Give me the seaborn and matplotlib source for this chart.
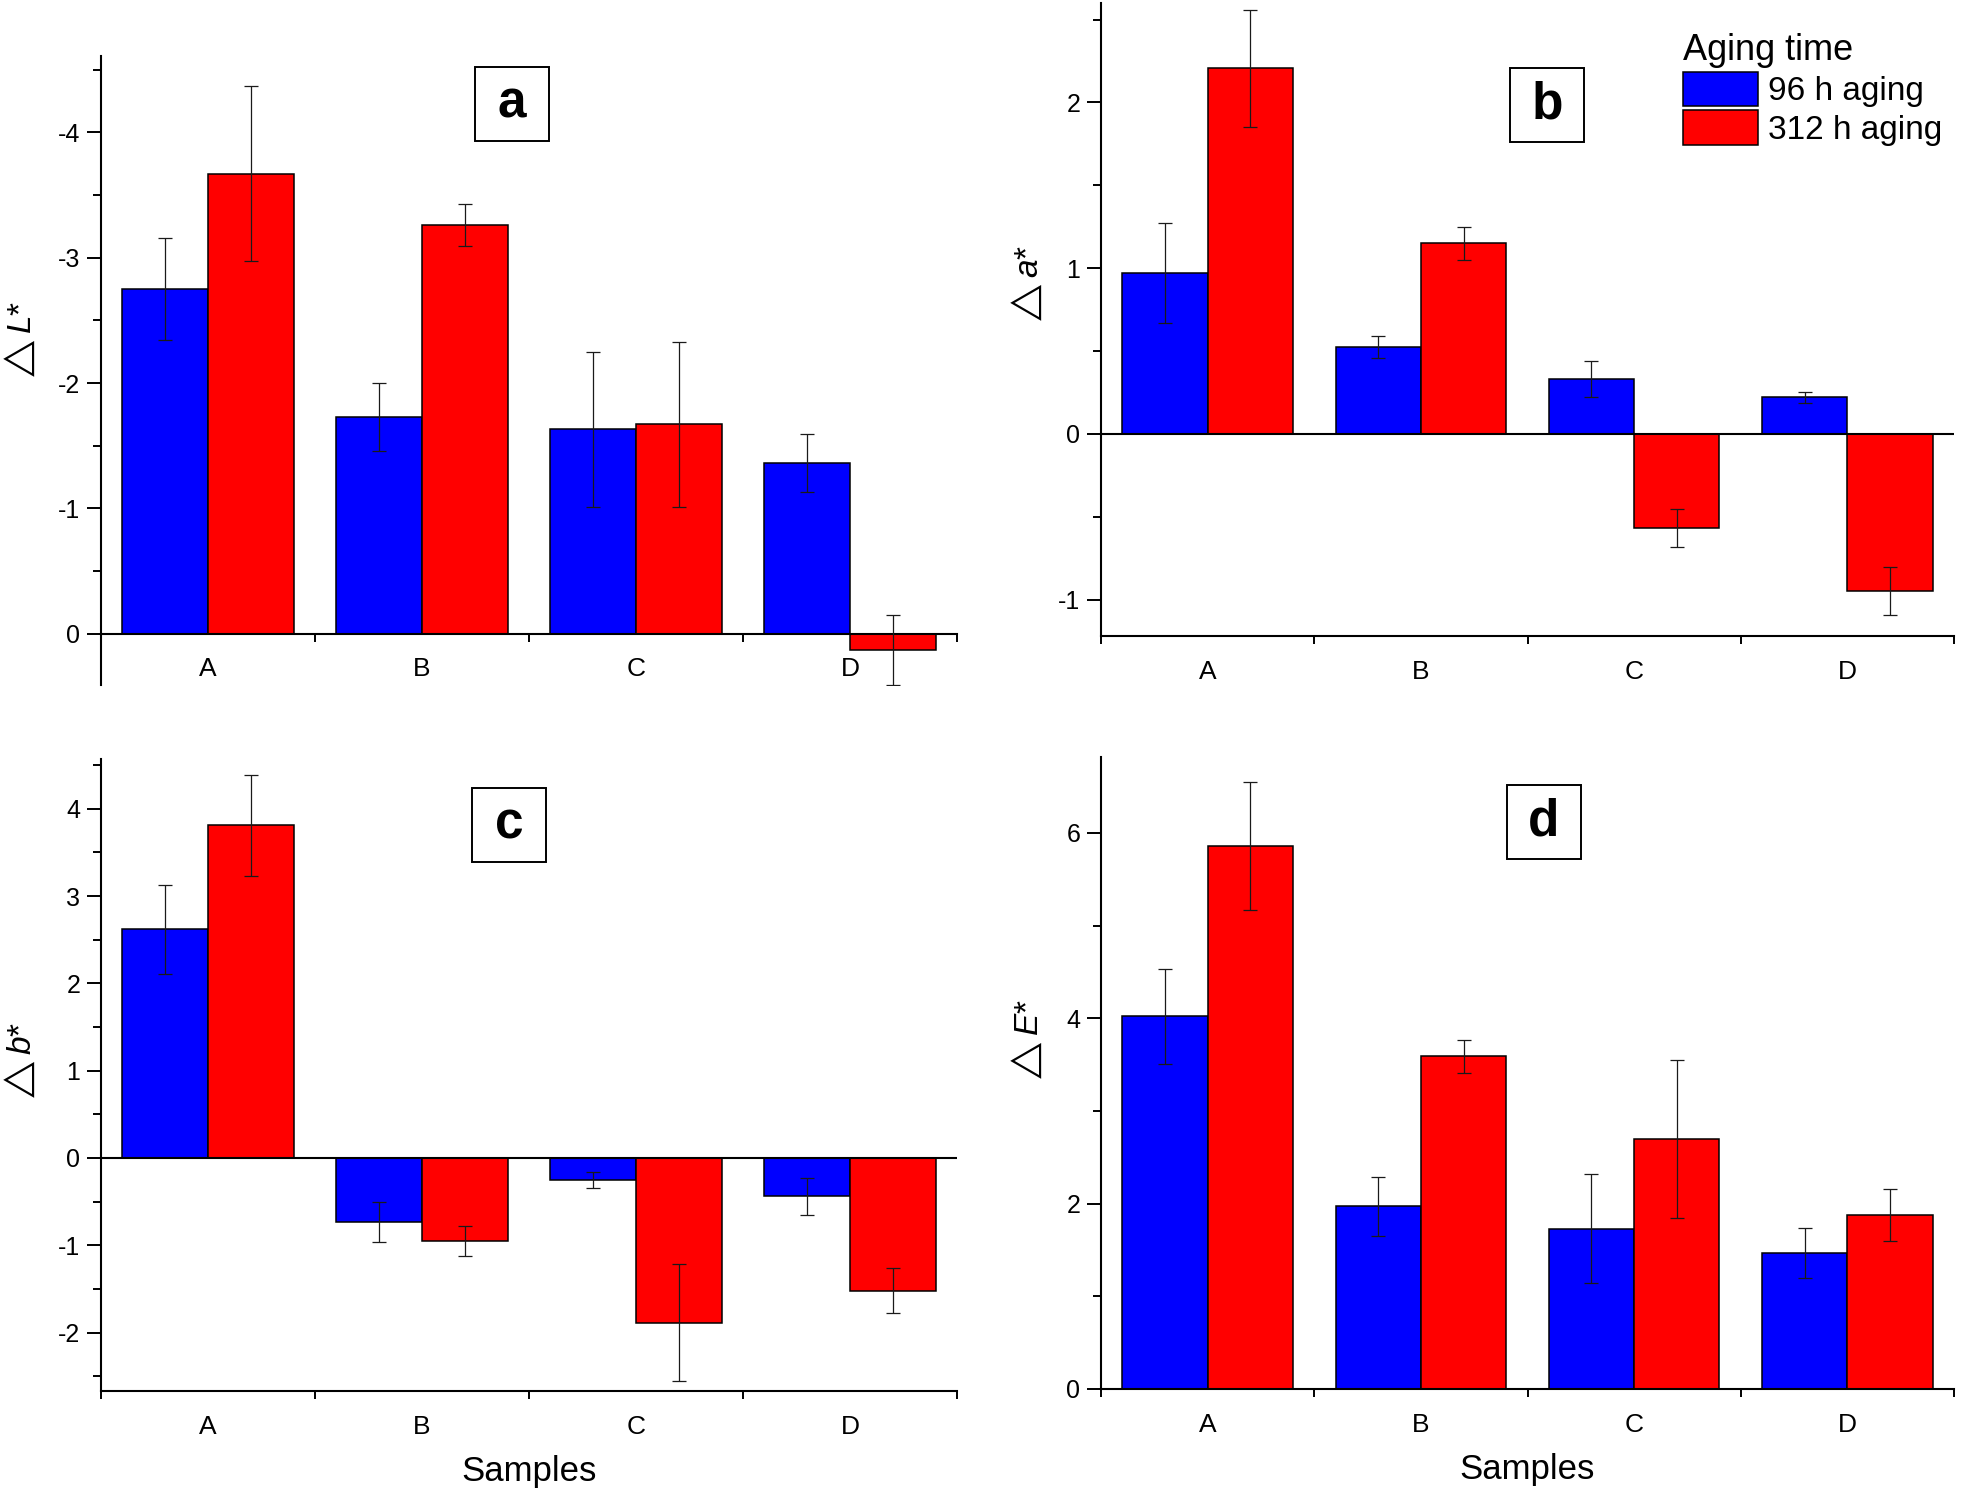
import numpy as np
import pandas as pd
import matplotlib
matplotlib.use('Agg')
import matplotlib.pyplot as plt
from matplotlib.patches import Rectangle
from matplotlib.ticker import MultipleLocator, FixedLocator
import seaborn as sns

# ── DATA ──────────────────────────────────────────────────
SAMPLES = ['A', 'B', 'C', 'D']
GROUPS = ['96 h aging', '312 h aging']
COLORS = {'96 h aging': '#0000FF', '312 h aging': '#FF0000'}

dL_96 = [-2.75, -1.73, -1.63, -1.36]
dL_96_err = [0.41, 0.27, 0.62, 0.23]
dL_312 = [-3.67, -3.26, -1.67, 0.13]
dL_312_err = [0.70, 0.17, 0.66, 0.28]

da_96 = [0.97, 0.525, 0.33, 0.22]
da_96_err = [0.30, 0.065, 0.107, 0.035]
da_312 = [2.205, 1.15, -0.57, -0.95]
da_312_err = [0.355, 0.10, 0.115, 0.145]

db_96 = [2.62, -0.73, -0.25, -0.44]
db_96_err = [0.51, 0.23, 0.09, 0.21]
db_312 = [3.81, -0.95, -1.89, -1.52]
db_312_err = [0.58, 0.175, 0.67, 0.26]

dE_96 = [4.02, 1.97, 1.73, 1.47]
dE_96_err = [0.51, 0.315, 0.59, 0.27]
dE_312 = [5.86, 3.59, 2.70, 1.88]
dE_312_err = [0.69, 0.175, 0.85, 0.28]

# ── STYLE ─────────────────────────────────────────────────
sns.set_theme(style='ticks', rc={
    'axes.edgecolor': 'black', 'xtick.color': 'black', 'ytick.color': 'black',
    'text.color': 'black', 'axes.labelcolor': 'black'})
plt.rcParams['font.family'] = ['Liberation Sans', 'DejaVu Sans']
plt.rcParams['axes.unicode_minus'] = False
plt.rcParams['mathtext.fontset'] = 'custom'
plt.rcParams['mathtext.rm'] = 'Liberation Sans'
plt.rcParams['mathtext.it'] = 'Liberation Sans:italic'
plt.rcParams['mathtext.fallback'] = 'stix'

W, H = 1961, 1495
fig = plt.figure(figsize=(W / 100, H / 100), dpi=100)


def draw_panel(rect, v96, e96, v312, e312, ylim, major, ylabel, ylabel_xy,
               letter, letter_xy, zero_line=False, spine_at_zero=False,
               xlabel=''):
    ax = fig.add_axes(rect)
    df = pd.DataFrame({
        'Sample': SAMPLES * 2,
        'value': list(v96) + list(v312),
        'Aging time': [GROUPS[0]] * len(SAMPLES) + [GROUPS[1]] * len(SAMPLES),
    })
    sns.barplot(data=df, x='Sample', y='value', hue='Aging time',
                hue_order=GROUPS, palette=COLORS, saturation=1, width=0.8,
                edgecolor='black', linewidth=1.1, errorbar=None,
                legend=False, ax=ax, zorder=2)

    # error bars on the bar positions seaborn computed
    for cont, err in zip(ax.containers, [e96, e312]):
        xs = [b.get_x() + b.get_width() / 2 for b in cont]
        ys = [b.get_y() + b.get_height() for b in cont]
        ax.errorbar(xs, ys, yerr=err, fmt='none', ecolor='#1a1a1a',
                    elinewidth=0.9, capsize=4.7, capthick=0.9, zorder=3)

    if zero_line:
        ax.axhline(0, color='black', lw=1.5, zorder=2.5)
    if spine_at_zero:
        ax.spines['bottom'].set_position(('data', 0))

    ax.set_xlim(-0.5, len(SAMPLES) - 0.5)
    ax.set_ylim(*ylim)
    ax.xaxis.set_minor_locator(FixedLocator(np.arange(-0.5, len(SAMPLES), 1.0)))
    ax.yaxis.set_major_locator(MultipleLocator(major))
    ax.yaxis.set_minor_locator(MultipleLocator(major / 2))

    for s in ['top', 'right']:
        ax.spines[s].set_visible(False)
    for s in ['left', 'bottom']:
        ax.spines[s].set_linewidth(1.5)

    ax.tick_params(axis='x', which='major', length=0, labelsize=19, pad=17)
    ax.tick_params(axis='x', which='minor', length=6, width=1.4, direction='out')
    ax.tick_params(axis='y', which='major', length=10, width=1.4,
                   labelsize=18, pad=5, direction='out')
    ax.tick_params(axis='y', which='minor', length=6, width=1.4, direction='out')

    ax.set_xlabel(xlabel, fontsize=25, labelpad=12)
    ax.set_ylabel(ylabel, fontsize=24)
    ax.yaxis.set_label_coords(*ylabel_xy)

    # boxed panel letter
    bb = ax.get_position()
    bw = 74 / (bb.width * W)
    bh = 74 / (bb.height * H)
    ax.add_patch(Rectangle((letter_xy[0] - bw / 2, letter_xy[1] - bh / 2), bw, bh,
                           transform=ax.transAxes, facecolor='white',
                           edgecolor='black', lw=1.4, zorder=4, clip_on=False))
    ax.text(letter_xy[0], letter_xy[1], letter, transform=ax.transAxes,
            ha='center', va='center', fontsize=37, fontweight='bold', zorder=5)
    return ax


ax_a = draw_panel([101 / W, 1 - 685 / H, 856 / W, 629 / H],
                  dL_96, dL_96_err, dL_312, dL_312_err,
                  ylim=(0.41, -4.61), major=1, ylabel=r'$\triangle L$*',
                  ylabel_xy=(-0.074, 0.545), letter='a', letter_xy=(0.480, 0.924),
                  spine_at_zero=True)

ax_b = draw_panel([1101 / W, 1 - 636 / H, 853 / W, 633 / H],
                  da_96, da_96_err, da_312, da_312_err,
                  ylim=(-1.22, 2.60), major=1, ylabel=r'$\triangle a$*',
                  ylabel_xy=(-0.066, 0.553), letter='b', letter_xy=(0.523, 0.839),
                  zero_line=True)

ax_c = draw_panel([101 / W, 1 - 1391 / H, 856 / W, 632 / H],
                  db_96, db_96_err, db_312, db_312_err,
                  ylim=(-2.67, 4.57), major=1, ylabel=r'$\triangle b$*',
                  ylabel_xy=(-0.074, 0.52), letter='c', letter_xy=(0.477, 0.896),
                  zero_line=True, xlabel='Samples')

ax_d = draw_panel([1101 / W, 1 - 1389 / H, 853 / W, 632 / H],
                  dE_96, dE_96_err, dE_312, dE_312_err,
                  ylim=(0, 6.82), major=2, ylabel=r'$\triangle E$*',
                  ylabel_xy=(-0.066, 0.549), letter='d', letter_xy=(0.519, 0.897),
                  xlabel='Samples')

ax_b.legend(ax_b.containers, GROUPS, title='Aging time', loc='upper left',
            bbox_to_anchor=(0.682, 0.952), frameon=False, fontsize=24,
            title_fontsize=26, handlelength=2.25, handleheight=1.2,
            handletextpad=0.3, labelspacing=0.1, borderpad=0,
            borderaxespad=0, alignment='left')

fig.savefig('out.png', dpi=100, facecolor='white')
